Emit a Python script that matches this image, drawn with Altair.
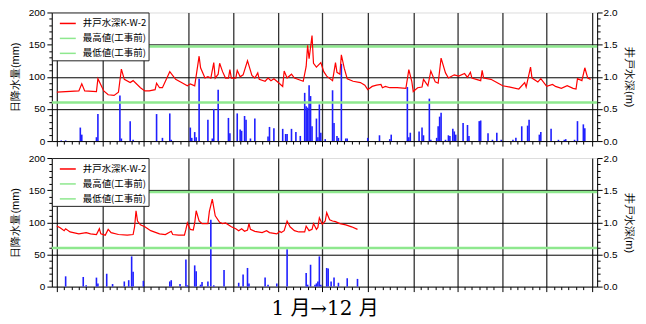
import json
import altair as alt
import pandas as pd

MONTH_STARTS = [0, 31, 59, 90, 120, 151, 181, 212, 243, 273, 304, 334, 365]
SERIES = ["井戸水深K-W-2", "最高値(工事前)", "最低値(工事前)"]
SERIES_COLORS = ["#ff0000", "#8ee88e", "#8ee88e"]
REF_LEVELS = [1.47, 0.60]

# ---- upper panel ----
top_line_day = [0, 15, 17, 19, 27, 28, 32, 35, 39, 42, 44, 46, 50, 52, 57, 60, 63, 67, 68, 70,
                72, 77, 81, 85, 89, 91, 94, 97, 98, 101, 103, 105, 107, 108, 110, 111, 113, 115,
                117, 118, 119, 122, 123, 125, 127, 130, 133, 135, 137, 138, 142, 144, 146, 148,
                151, 154, 155, 157, 160, 162, 168, 170, 171, 172, 174, 175, 177, 180, 182, 184,
                188, 190, 191, 193, 194, 196, 198, 202, 207, 210, 212, 215, 218, 221, 222, 224,
                227, 232, 238, 240, 242, 243, 246, 249, 250, 253, 255, 258, 260, 262, 265, 267,
                271, 274, 278, 280, 282, 283, 286, 289, 290, 291, 296, 300, 304, 309, 315, 319,
                320, 323, 324, 328, 330, 334, 338, 340, 344, 348, 352, 354, 355, 358, 360, 362, 364]
top_line_m = [0.76, 0.78, 0.89, 0.78, 0.77, 0.97, 0.78, 0.72, 0.71, 0.76, 1.12, 0.96, 0.91, 0.94,
              0.83, 0.78, 0.78, 0.80, 0.90, 0.83, 0.83, 1.08, 0.96, 0.91, 0.86, 0.89, 0.86, 1.32,
              1.14, 0.98, 1.00, 0.98, 1.22, 0.98, 1.04, 1.21, 1.08, 0.98, 0.98, 1.11, 0.98, 0.98,
              1.10, 1.00, 1.03, 1.25, 1.02, 0.98, 1.06, 0.96, 0.93, 0.98, 0.94, 0.97, 0.91, 0.85,
              1.09, 0.98, 1.04, 0.98, 0.93, 1.16, 1.49, 1.28, 1.64, 1.21, 1.15, 1.22, 1.08, 1.01,
              0.94, 1.22, 1.07, 1.04, 1.34, 1.13, 0.97, 0.93, 0.91, 0.87, 0.80, 0.85, 0.87, 0.88,
              0.83, 0.85, 0.83, 0.83, 0.82, 1.11, 0.93, 0.77, 0.83, 0.84, 0.96, 0.86, 1.09, 0.92,
              0.90, 1.29, 1.06, 0.98, 1.03, 1.01, 1.05, 0.99, 1.07, 0.98, 0.96, 0.94, 1.10, 0.98,
              0.96, 0.91, 0.86, 0.84, 0.81, 0.91, 0.84, 1.15, 0.98, 0.92, 0.97, 0.85, 0.88, 0.85,
              0.82, 0.86, 0.82, 0.81, 0.97, 0.94, 1.14, 0.98, 0.96]
top_rain_day = [3, 6, 16, 17, 27, 28, 43, 44, 50, 52, 68, 72, 77, 78, 91, 92, 94, 95, 97, 103, 106,
                107, 110, 117, 118, 123, 125, 126, 128, 129, 132, 135, 144, 145, 148, 154, 156,
                157, 160, 163, 166, 169, 170, 171, 172, 173, 174, 177, 178, 179, 180, 183, 188,
                189, 191, 192, 194, 197, 198, 212, 220, 227, 228, 239, 240, 241, 247, 249, 250,
                254, 255, 259, 260, 261, 262, 265, 267, 268, 270, 271, 272, 277, 280, 281, 288,
                289, 294, 297, 300, 303, 311, 313, 317, 321, 322, 329, 330, 337, 342, 346, 347,
                353, 355, 359, 360]
top_rain_mm = [1, 1, 21, 10, 6, 42, 71, 4, 31, 2, 42, 5, 43, 2, 21, 5, 14, 6, 97, 33, 4, 50, 80, 36,
               12, 43, 18, 16, 39, 33, 4, 35, 7, 22, 20, 19, 11, 11, 19, 14, 8, 75, 54, 52, 87,
               70, 23, 35, 6, 57, 13, 3, 79, 28, 8, 5, 120, 4, 4, 5, 9, 3, 10, 84, 6, 13, 15, 21,
               9, 66, 2, 5, 23, 38, 44, 2, 9, 8, 19, 15, 10, 28, 25, 8, 31, 32, 12, 2, 13, 2, 2,
               5, 23, 24, 33, 10, 14, 19, 2, 2, 3, 2, 31, 26, 20]

# ---- lower panel ----
bot_line_day = [0, 2, 5, 6, 9, 15, 20, 23, 27, 29, 30, 33, 35, 37, 42, 48, 52, 53, 54, 55, 57, 60,
                64, 70, 74, 78, 79, 83, 87, 88, 89, 91, 93, 94, 95, 97, 99, 103, 104, 106, 108,
                111, 113, 115, 119, 122, 124, 126, 128, 130, 131, 132, 135, 140, 143, 145, 150,
                152, 153, 155, 157, 159, 162, 165, 169, 170, 172, 174, 175, 177, 178, 179, 181,
                183, 184, 186, 188, 190, 193, 197, 201, 205]
bot_line_m = [0.94, 0.92, 0.87, 0.90, 0.85, 0.82, 0.84, 0.82, 0.81, 0.90, 0.82, 0.80, 0.89, 0.84,
              0.81, 0.80, 0.81, 0.93, 1.18, 1.02, 0.96, 0.93, 0.87, 0.82, 0.81, 0.86, 0.81, 0.80,
              0.80, 0.89, 0.99, 0.89, 0.88, 0.99, 1.18, 1.02, 0.98, 0.98, 1.17, 1.36, 1.10, 1.00,
              0.98, 0.99, 0.93, 0.90, 0.87, 0.90, 0.86, 0.88, 0.98, 0.89, 0.86, 0.84, 0.87, 0.84,
              0.82, 0.86, 0.84, 0.87, 1.02, 0.93, 0.87, 0.85, 0.85, 0.94, 0.87, 0.89, 0.98, 0.89,
              0.92, 1.07, 0.97, 1.02, 1.15, 1.04, 1.02, 1.01, 0.98, 0.96, 0.93, 0.89]
bot_rain_day = [6, 18, 20, 27, 28, 34, 38, 46, 49, 51, 52, 59, 77, 78, 84, 88, 89, 94, 95, 98, 99,
                103, 105, 107, 114, 124, 127, 130, 131, 142, 144, 150, 157, 170, 171, 173, 176,
                177, 178, 179, 180, 184, 185, 187, 189, 192, 198, 205]
bot_rain_mm = [16, 15, 2, 14, 5, 20, 4, 8, 10, 47, 23, 9, 8, 10, 4, 42, 2, 33, 24, 3, 7, 8, 104, 2,
               26, 6, 19, 29, 5, 14, 3, 5, 58, 21, 3, 34, 3, 5, 8, 47, 3, 29, 28, 8, 14, 6, 13, 12]

X_TITLE = "1 月→12 月"

# ---- axis helpers ----
minor_x = []
for s, e in zip(MONTH_STARTS[:-1], MONTH_STARTS[1:]):
    minor_x += [s + k for k in range(5, e - s - 2, 5)]
x_values = sorted(MONTH_STARTS + minor_x)
month_test = "indexof(%s, datum.value) >= 0" % json.dumps(MONTH_STARTS)

mm_values = list(range(0, 201, 10))
m_values = [round(k * 0.1, 1) for k in range(21)]


def x_axis(title=None, **kw):
    return alt.Axis(
        values=x_values, labels=False, grid=True, gridColor="#333333", gridWidth=1.3,
        gridOpacity={"condition": {"test": month_test, "value": 1}, "value": 0},
        tickSize={"condition": {"test": month_test, "value": 5}, "value": 3},
        tickColor="#000000", domainColor="#000000", title=title, **kw)


left_axis = alt.Axis(
    values=mm_values, title="日降水量(mm)", orient="left",
    labelExpr="datum.value % 50 === 0 ? datum.label : ''",
    grid=True, gridColor="#000000", gridWidth=1,
    gridOpacity={"condition": {"test": "datum.value % 50 === 0 && datum.value > 0 && datum.value < 200",
                               "value": 1}, "value": 0},
    tickSize={"condition": {"test": "datum.value % 50 === 0", "value": 5}, "value": 3},
    tickColor="#000000", domainColor="#000000", labelPadding=2, titlePadding=8,
    titleFontWeight="normal")

right_axis = alt.Axis(
    values=m_values, title="井戸水深(m)", orient="right", grid=False,
    labelExpr="abs(datum.value * 2 - round(datum.value * 2)) < 0.001 ? format(datum.value, '.1f') : ''",
    tickSize={"condition": {"test": "abs(datum.value * 2 - round(datum.value * 2)) < 0.001", "value": 5},
              "value": 3},
    tickColor="#000000", domainColor="#000000", labelPadding=1, titlePadding=7,
    titleFontWeight="normal")

legend = alt.Legend(
    title=None, orient="top-left", offset=0, padding=2, symbolType="stroke", symbolSize=256,
    symbolStrokeWidth=1.5, symbolOffset=5, labelFont="Noto Sans CJK JP", labelFontSize=9.5,
    labelOffset=6, rowPadding=1, strokeColor="#222222", fillColor="#ffffff", labelColor="#000000")

color_scale = alt.Scale(domain=SERIES, range=SERIES_COLORS)


def panel(line_day, line_m, rain_day, rain_mm, xtitle=None, **xkw):
    line_df = pd.DataFrame({"day": line_day, "m": line_m, "series": SERIES[0]})
    rain_df = pd.DataFrame({"day": rain_day, "mm": rain_mm})
    ref_df = pd.DataFrame({"level": REF_LEVELS, "series": SERIES[1:]})
    xs = alt.Scale(domain=[0, 365], nice=False, zero=False)
    xax = x_axis(xtitle, **xkw)

    bars = alt.Chart(rain_df).mark_bar(size=1.6, color="#1f1fff").encode(
        x=alt.X("day:Q", scale=xs, axis=xax),
        y=alt.Y("mm:Q", scale=alt.Scale(domain=[0, 200], nice=False), axis=left_axis),
    )
    rules = alt.Chart(ref_df).mark_rule(strokeWidth=2.5).encode(
        y=alt.Y("level:Q", scale=alt.Scale(domain=[0, 2], nice=False), axis=right_axis),
        color=alt.Color("series:N", scale=color_scale, legend=legend),
    )
    line = alt.Chart(line_df).mark_line(strokeWidth=1.2).encode(
        x=alt.X("day:Q", scale=xs, axis=xax),
        y=alt.Y("m:Q", scale=alt.Scale(domain=[0, 2], nice=False), axis=right_axis),
        color=alt.Color("series:N", scale=color_scale, legend=legend),
    )
    return alt.layer(bars, alt.layer(rules, line)).resolve_scale(y="independent").properties(
        width=547, height=129)


top = panel(top_line_day, top_line_m, top_rain_day, top_rain_mm)
bottom = panel(bot_line_day, bot_line_m, bot_rain_day, bot_rain_mm, xtitle=X_TITLE,
               titleFont="DejaVu Serif, Noto Sans CJK JP", titleFontSize=20,
               titleFontWeight="normal", titlePadding=6)

chart = alt.vconcat(top, bottom, spacing=5).resolve_scale(
    color="independent", y="independent", x="independent").resolve_legend(
    color="independent").properties(
    padding={"left": 0, "top": -2, "right": 2, "bottom": 0}
).configure_view(stroke="#000000", strokeWidth=1).configure_axis(
    labelFont="Liberation Sans", labelFontSize=11, labelColor="#000000",
    titleFont="Noto Sans CJK JP", titleFontSize=12, titleFontWeight="normal", titleColor="#000000"
).configure(background="#ffffff")

chart.save("out.html", embed_options={"renderer": "svg", "actions": False})
